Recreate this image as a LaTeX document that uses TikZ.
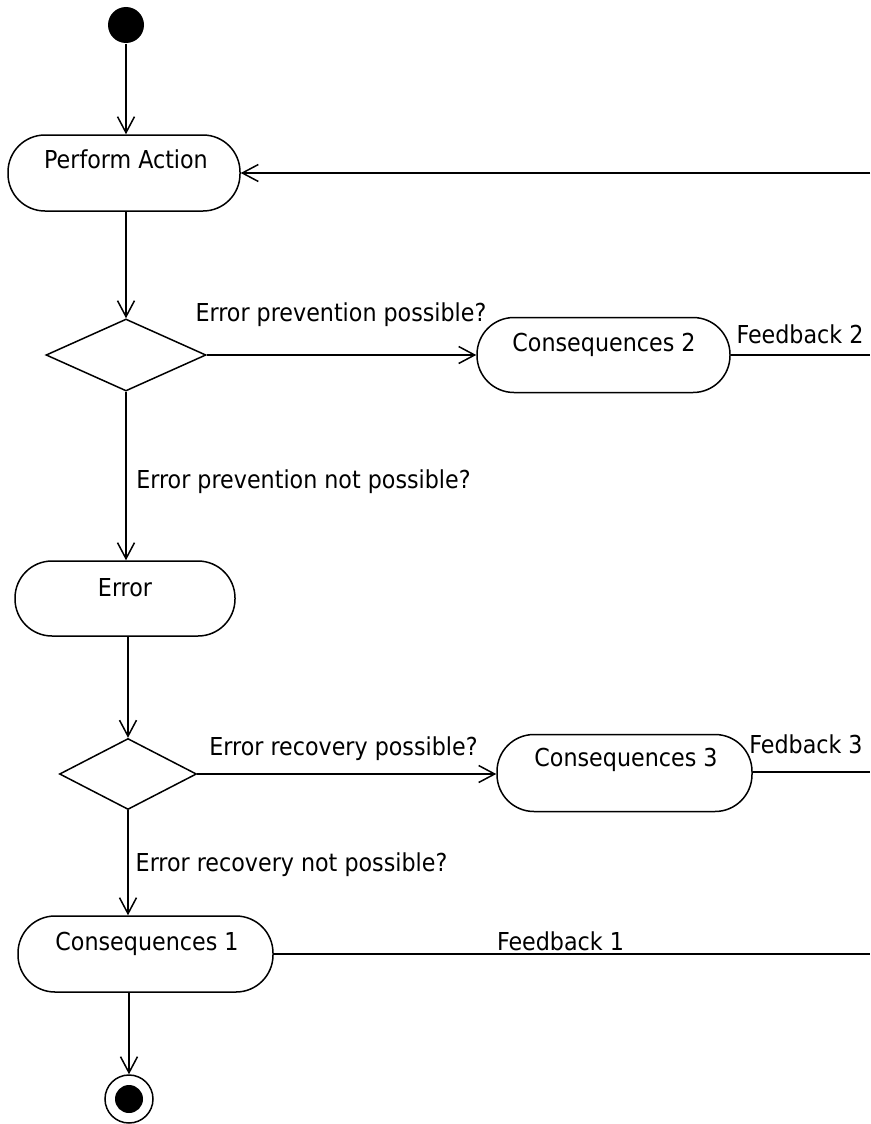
\documentclass[tikz,border=0pt]{standalone}
\usepackage{fontspec}
\setmainfont{DejaVu Sans Condensed}
\usetikzlibrary{arrows.meta,shapes.geometric}

\begin{document}
\begin{tikzpicture}[x=1pt, y=-1pt, line width=1.5pt,
  font=\fontsize{24.7}{29}\selectfont,
  actbox/.style={draw, rectangle, rounded corners=37pt, inner sep=0pt},
  decision/.style={draw, diamond, inner sep=0pt},
  initdot/.style={circle, fill=black, minimum size=36pt, inner sep=0pt},
  finaldot/.style={circle, draw, minimum size=48pt, inner sep=0pt,
    path picture={\fill (path picture bounding box.center) circle (14pt);}},
  txt/.style={anchor=base, inner sep=0pt},
  flow/.style={-{Straight Barb[length=16pt, width=17pt]}},
]
  % page frame
  \useasboundingbox (0,0) rectangle (870,1124);

  % activity nodes
  \node[initdot] (start) at (126,25) {};
  \node[actbox, minimum width=232pt, minimum height=76pt] (perform) at (124,173) {};
  \node[decision, minimum width=160pt, minimum height=72pt] (d1) at (126,355) {};
  \node[actbox, minimum width=253pt, minimum height=75pt] (cons2) at (603.5,355) {};
  \node[actbox, minimum width=220pt, minimum height=75pt] (error) at (125,598.5) {};
  \node[decision, minimum width=137pt, minimum height=71pt] (d2) at (128,774) {};
  \node[actbox, minimum width=255pt, minimum height=77pt] (cons3) at (624.5,773) {};
  \node[actbox, minimum width=255pt, minimum height=76pt] (cons1) at (145.5,954) {};
  \node[finaldot] (final) at (129,1099) {};

  % texts inside the activities
  \node[txt] (perform-t) at (126,168.5) {Perform Action};
  \node[txt] (cons2-t) at (604,351) {Consequences 2};
  \node[txt] (error-t) at (125,596) {Error};
  \node[txt] (cons3-t) at (626,766.5) {Consequences 3};
  \node[txt] (cons1-t) at (147,950.5) {Consequences 1};

  % guard and feedback labels
  \node[txt] (g1) at (341,321.5) {Error prevention possible?};
  \node[txt] (g2) at (303.5,488.5) {Error prevention not possible?};
  \node[txt] (g3) at (343.5,755.5) {Error recovery possible?};
  \node[txt] (g4) at (291.5,871.5) {Error recovery not possible?};
  \node[txt] (fb2-t) at (800,343.5) {Feedback 2};
  \node[txt] (fb3-t) at (806,753.5) {Fedback 3};
  \node[txt] (fb1-t) at (560.5,950.5) {Feedback 1};

  % free ends of the feedback lines at the right border
  \coordinate (back) at (870,173);
  \coordinate (fb2) at (870,355);
  \coordinate (fb3) at (870,772);
  \coordinate (fb1) at (870,954);

  % control flow
  \draw[flow] (start) -- (start |- perform.north);
  \draw[flow] (d1.north |- perform.south) -- (d1.north);
  \draw[flow] (d1.east) -- (cons2.west);
  \draw[flow] (d1.south) -- (d1.south |- error.north);
  \draw[flow] (error.south -| d2.north) -- (d2.north);
  \draw[flow] (d2.east) -- (d2.east -| cons3.west);
  \draw[flow] (d2.south) -- (d2.south |- cons1.north);
  \draw[flow] (cons1.south -| final) -- (final);
  \draw[flow] (back) -- (perform.east |- back);

  % feedback lines
  \draw (cons2.east) -- (cons2.east -| fb2);
  \draw (cons3.east |- fb3) -- (fb3);
  \draw (cons1.east) -- (cons1.east -| fb1);
\end{tikzpicture}
\end{document}
